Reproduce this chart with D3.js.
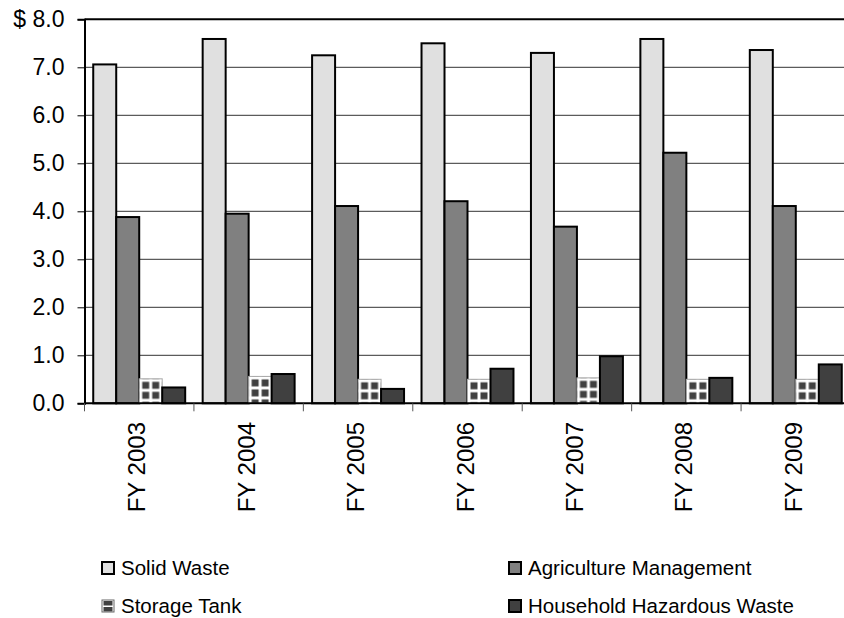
<!DOCTYPE html>
<html>
<head>
<meta charset="utf-8">
<script src="https://cdn.jsdelivr.net/npm/d3@7"></script>
<style>
  body { margin: 0; background: #fff; }
  svg { font-family: "Liberation Sans", Arial, sans-serif; }
</style>
</head>
<body>
<div id="chart"></div>
<script>
// Chart size and plot area
const width = 844;
const height = 618;
const margin = { top: 19.3, left: 84.5, bottom: 403.3, right: 850.5 };

// Data
const years = ["FY 2003", "FY 2004", "FY 2005", "FY 2006", "FY 2007", "FY 2008", "FY 2009"];
const seriesNames = ["Solid Waste", "Agriculture Management", "Storage Tank", "Household Hazardous Waste"];
const solidWaste = [7.06, 7.59, 7.25, 7.5, 7.3, 7.59, 7.36];
const agriculture = [3.88, 3.95, 4.11, 4.21, 3.68, 5.22, 4.11];
const storageTank = [0.51, 0.56, 0.5, 0.5, 0.53, 0.5, 0.5];
const household = [0.33, 0.61, 0.3, 0.72, 0.98, 0.53, 0.81];
const yTicks = [0, 1, 2, 3, 4, 5, 6, 7, 8];

const seriesValues = [solidWaste, agriculture, storageTank, household];
const fills = ["#e0e0e0", "#808080", "url(#tank)", "#404040"];

// flat list of bars
const bars = [];
years.forEach((yr, i) => {
    seriesNames.forEach((s, j) => {
        bars.push({ year: yr, series: s, idx: j, value: seriesValues[j][i] });
    });
});

const x0 = d3.scaleBand()
    .domain(years)
    .range([margin.left, margin.right])
    .padding(0);

const x1 = d3.scaleBand()
    .domain(seriesNames)
    .range([0, x0.bandwidth()])
    .paddingInner(0)
    .paddingOuter(0.38);

const y = d3.scaleLinear()
    .domain([0, 8])
    .range([margin.bottom, margin.top]);

const svg = d3.select("#chart")
    .append("svg")
    .attr("width", width)
    .attr("height", height)
    .attr("viewBox", `0 0 ${width} ${height}`);

const defs = svg.append("defs");

// one pattern per storage tank bar so the squares start at each bar's corner
bars.filter(d => d.idx === 2).forEach((d, i) => {
    const p = defs.append("pattern")
        .attr("id", "tank" + i)
        .attr("patternUnits", "userSpaceOnUse")
        .attr("x", x0(d.year) + x1(d.series) + 0.5)
        .attr("y", y(d.value) + 0.5)
        .attr("width", 10)
        .attr("height", 10);
    p.append("rect").attr("width", 10).attr("height", 10).attr("fill", "#fff");
    p.append("rect").attr("x", 2.5).attr("y", 2.5).attr("width", 7).attr("height", 7).attr("fill", "#404040");
    d.pat = "url(#tank" + i + ")";
});

// legend pattern
const lp = defs.append("pattern")
    .attr("id", "tankLegend")
    .attr("patternUnits", "userSpaceOnUse")
    .attr("x", 102).attr("y", 600)
    .attr("width", 12).attr("height", 6);
lp.append("rect").attr("width", 12).attr("height", 6).attr("fill", "#fff");
lp.append("rect").attr("x", 1.5).attr("y", 1).attr("width", 9).attr("height", 4.5).attr("fill", "#404040");

// gridlines
svg.append("g")
    .selectAll("line")
    .data(yTicks.filter(t => t > 0 && t < 8))
    .enter()
    .append("line")
    .attr("x1", margin.left)
    .attr("x2", width)
    .attr("y1", d => y(d))
    .attr("y2", d => y(d))
    .attr("stroke", "#333")
    .attr("stroke-width", 1);

// top border
svg.append("line")
    .attr("x1", margin.left)
    .attr("x2", width)
    .attr("y1", y(8))
    .attr("y2", y(8))
    .attr("stroke", "#000")
    .attr("stroke-width", 2);

// bars
svg.append("g")
    .selectAll("rect")
    .data(bars)
    .enter()
    .append("rect")
    .attr("x", d => x0(d.year) + x1(d.series))
    .attr("y", d => y(d.value))
    .attr("width", x1.bandwidth())
    .attr("height", d => y(0) - y(d.value))
    .attr("fill", d => d.idx === 2 ? d.pat : fills[d.idx])
    .attr("stroke", d => d.idx === 2 ? "#aaa" : "#000")
    .attr("stroke-width", d => d.idx === 2 ? 1 : 2);

// y axis
const yAxis = svg.append("g")
    .attr("transform", `translate(${margin.left},0)`)
    .call(d3.axisLeft(y)
        .tickValues(yTicks)
        .tickSize(7)
        .tickPadding(13)
        .tickFormat(d => d === 8 ? "$ 8.0" : d3.format(".1f")(d)));
yAxis.select(".domain").attr("stroke", "#000").attr("stroke-width", 2);
yAxis.selectAll(".tick line").attr("stroke", "#000");
yAxis.selectAll(".tick text")
    .attr("font-size", "23px")
    .attr("fill", "#000")
    .attr("font-family", "'Liberation Sans', Arial, sans-serif");

// x axis: ticks at group boundaries
const xAxisG = svg.append("g");
xAxisG.append("line")
    .attr("x1", margin.left)
    .attr("x2", width)
    .attr("y1", y(0))
    .attr("y2", y(0))
    .attr("stroke", "#000")
    .attr("stroke-width", 2);
xAxisG.selectAll(".xtick")
    .data(years)
    .enter()
    .append("line")
    .attr("class", "xtick")
    .attr("x1", d => x0(d))
    .attr("x2", d => x0(d))
    .attr("y1", y(0))
    .attr("y2", y(0) + 8)
    .attr("stroke", "#555")
    .attr("stroke-width", 1);

xAxisG.selectAll(".xlabel")
    .data(years)
    .enter()
    .append("text")
    .attr("class", "xlabel")
    .attr("transform", d => `translate(${x0(d) + x0.bandwidth() / 2 + 6},422) rotate(-90)`)
    .attr("text-anchor", "end")
    .attr("font-size", "24px")
    .attr("fill", "#000")
    .text(d => d);

// legend
const legendPos = [
    { sx: 101, sy: 561, tx: 121, ty: 575 },
    { sx: 508, sy: 561, tx: 528, ty: 575 },
    { sx: 101, sy: 599, tx: 121, ty: 613 },
    { sx: 508, sy: 599, tx: 528, ty: 613 }
];
const legend = svg.append("g")
    .selectAll("g")
    .data(seriesNames)
    .enter()
    .append("g");

legend.append("rect")
    .attr("x", (d, i) => legendPos[i].sx + 1)
    .attr("y", (d, i) => legendPos[i].sy + 1)
    .attr("width", 12)
    .attr("height", 12)
    .attr("fill", (d, i) => i === 2 ? "url(#tankLegend)" : fills[i])
    .attr("stroke", (d, i) => i === 2 ? "#666" : "#000")
    .attr("stroke-width", (d, i) => i === 2 ? 1 : 2);

legend.append("text")
    .attr("x", (d, i) => legendPos[i].tx)
    .attr("y", (d, i) => legendPos[i].ty)
    .attr("font-size", "20.5px")
    .attr("fill", "#000")
    .text(d => d);
</script>
</body>
</html>
